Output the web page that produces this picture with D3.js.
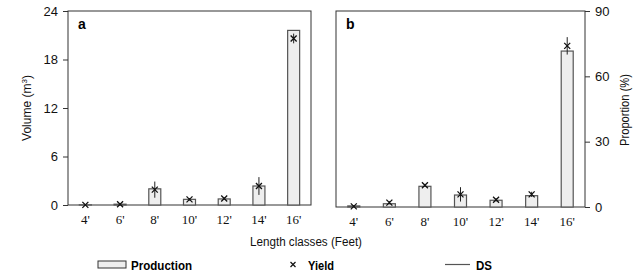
<!DOCTYPE html>
<html>
<head>
<meta charset="utf-8">
<script src="https://cdn.jsdelivr.net/npm/d3@7/dist/d3.min.js"></script>
<style>
  body { margin: 0; background: #fff; }
  svg { display: block; }
  .narrow { font-family: "Liberation Sans Narrow", "Liberation Sans", Arial, sans-serif; }
  .serif { font-family: "Liberation Serif", "DejaVu Serif", serif; }
</style>
</head>
<body>
<svg id="chart" width="636" height="276"></svg>
<script>
const categories = ["4'", "6'", "8'", "10'", "12'", "14'", "16'"];

// panel a: volume (m3)
const productionA = [0.02, 0.1, 2.0, 0.7, 0.75, 2.35, 21.6];
const yieldA = [0.02, 0.1, 1.9, 0.7, 0.8, 2.35, 20.6];
const dsA = [0.05, 0.08, 1.0, 0.15, 0.15, 1.1, 0.6];
const ticksA = [0, 6, 12, 18, 24];

// panel b: proportion (%)
const productionB = [0.5, 1.5, 9.5, 5.5, 3.1, 5.2, 71.6];
const yieldB = [0.3, 2.0, 10.0, 5.8, 3.3, 5.8, 74.0];
const dsB = [0.5, 0.7, 0.6, 3.3, 0.8, 1.2, 4.0];
const ticksB = [0, 30, 60, 90];

const svg = d3.select("#chart");

function drawPanel(opts) {
    let x = d3.scaleBand().domain(categories).range([opts.x1, opts.x2]);
    let y = d3.scaleLinear().domain([0, opts.max]).range([opts.y2, opts.y1]);
    let g = svg.append("g");

    // frame
    g.append("rect")
        .attr("x", opts.x1).attr("y", opts.y1)
        .attr("width", opts.x2 - opts.x1).attr("height", opts.y2 - opts.y1)
        .attr("fill", "none").attr("stroke", "#333").attr("stroke-width", 1);

    let barW = 12;
    g.selectAll("rect.bar").data(opts.prod).enter().append("rect")
        .attr("class", "bar")
        .attr("x", (d, i) => x(categories[i]) + x.bandwidth() / 2 - barW / 2)
        .attr("y", d => y(d))
        .attr("width", barW)
        .attr("height", d => opts.y2 - y(d))
        .attr("fill", "#eeeeee").attr("stroke", "#555").attr("stroke-width", 1.2);

    // DS lines
    g.selectAll("line.ds").data(opts.yld).enter().append("line")
        .attr("class", "ds")
        .attr("x1", (d, i) => x(categories[i]) + x.bandwidth() / 2)
        .attr("x2", (d, i) => x(categories[i]) + x.bandwidth() / 2)
        .attr("y1", (d, i) => y(d + opts.ds[i]))
        .attr("y2", (d, i) => y(Math.max(0, d - opts.ds[i])))
        .attr("stroke", "#222").attr("stroke-width", 1);

    // yield markers
    let s = 3;
    opts.yld.forEach((d, i) => {
        let cx = x(categories[i]) + x.bandwidth() / 2;
        let cy = y(d);
        g.append("path")
            .attr("d", `M${cx - s},${cy - s}L${cx + s},${cy + s}M${cx - s},${cy + s}L${cx + s},${cy - s}`)
            .attr("stroke", "#111").attr("stroke-width", 1.3);
    });

    // y axis
    let axis = opts.right ? d3.axisRight(y) : d3.axisLeft(y);
    axis.tickValues(opts.ticks).tickSize(5).tickSizeOuter(0).tickPadding(5);
    let ay = g.append("g")
        .attr("transform", `translate(${opts.right ? opts.x2 : opts.x1},0)`)
        .call(axis);
    ay.select(".domain").remove();
    ay.selectAll("line").attr("stroke", "#333");
    ay.selectAll("text").attr("class", "narrow").attr("font-size", 13).attr("fill", "#111");

    // x axis labels
    let ax = g.append("g")
        .attr("transform", `translate(0,${opts.y2})`)
        .call(d3.axisBottom(x).tickSize(0).tickPadding(10));
    ax.select(".domain").remove();
    ax.selectAll("text").attr("class", "serif").attr("font-size", 13).attr("fill", "#111");

    g.append("text")
        .attr("x", opts.x1 + 10).attr("y", opts.y1 + 18)
        .attr("class", "narrow").attr("font-size", 14).attr("font-weight", "bold")
        .text(opts.label);
}

drawPanel({ x1: 68, x2: 311, y1: 11, y2: 205, max: 24, prod: productionA, yld: yieldA, ds: dsA, ticks: ticksA, right: false, label: "a" });
drawPanel({ x1: 336, x2: 585, y1: 11, y2: 207, max: 90, prod: productionB, yld: yieldB, ds: dsB, ticks: ticksB, right: true, label: "b" });

// axis titles
let yt = svg.append("text")
    .attr("class", "narrow").attr("font-size", 12).attr("fill", "#111")
    .attr("text-anchor", "middle")
    .attr("transform", "translate(31,108) rotate(-90)");
yt.append("tspan").text("Volume (m");
yt.append("tspan").attr("font-size", 8).attr("dy", -4).text("3");
yt.append("tspan").attr("dy", 4).text(")");

svg.append("text")
    .attr("class", "narrow").attr("font-size", 12).attr("fill", "#111")
    .attr("text-anchor", "middle")
    .attr("transform", "translate(629,110) rotate(-90)")
    .attr("textLength", 72).attr("lengthAdjust", "spacingAndGlyphs")
    .text("Proportion (%)");

svg.append("text")
    .attr("class", "narrow").attr("font-size", 12).attr("fill", "#111")
    .attr("text-anchor", "middle")
    .attr("x", 306).attr("y", 246)
    .attr("textLength", 112).attr("lengthAdjust", "spacingAndGlyphs")
    .text("Length classes (Feet)");

// legend
let lg = svg.append("g").attr("class", "narrow");
lg.append("rect").attr("x", 98).attr("y", 261).attr("width", 28).attr("height", 7)
    .attr("fill", "#eeeeee").attr("stroke", "#333").attr("stroke-width", 1);
lg.append("text").attr("x", 131).attr("y", 270).attr("font-size", 13).attr("font-weight", "bold")
    .attr("textLength", 61).attr("lengthAdjust", "spacingAndGlyphs").text("Production");
lg.append("path").attr("d", "M290.5,262L295.5,267M290.5,267L295.5,262").attr("stroke", "#111").attr("stroke-width", 1.2);
lg.append("text").attr("x", 308).attr("y", 270).attr("font-size", 13).attr("font-weight", "bold")
    .attr("textLength", 26).attr("lengthAdjust", "spacingAndGlyphs").text("Yield");
lg.append("line").attr("x1", 445).attr("x2", 470).attr("y1", 264.5).attr("y2", 264.5).attr("stroke", "#555").attr("stroke-width", 1.2);
lg.append("text").attr("x", 476).attr("y", 270).attr("font-size", 13).attr("font-weight", "bold")
    .attr("textLength", 16).attr("lengthAdjust", "spacingAndGlyphs").text("DS");
</script>
</body>
</html>
